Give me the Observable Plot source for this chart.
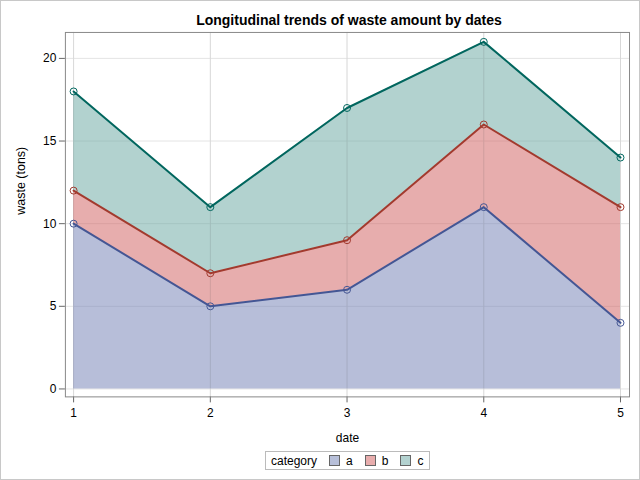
<!DOCTYPE html>
<html><head><meta charset="utf-8">
<script src="https://cdn.jsdelivr.net/npm/d3@7"></script>
<script src="https://cdn.jsdelivr.net/npm/@observablehq/plot@0.6"></script>
<style>
body{margin:0;font-family:"Liberation Sans",Arial,sans-serif;}
#wrap{position:relative;width:638px;height:478px;border:1px solid #c8c8c8;background:#fff;overflow:hidden;}
#title{position:absolute;left:0;width:696px;top:11px;text-align:center;font-weight:bold;font-size:14px;color:#000;}
#chart{position:absolute;left:-1px;top:-1px;}
#legend{position:absolute;left:264px;top:450px;height:17px;border:1px solid #bbb;display:flex;align-items:center;font-size:12px;color:#000;padding:0 6px 0 5px;}
.sw{display:inline-block;width:9px;height:9px;border:1px solid #666;margin:0 6px 0 12px;}
</style></head><body>
<div id="wrap">
<div id="chart"></div>
<div id="title">Longitudinal trends of waste amount by dates</div>
<div id="legend"></div>
</div>
<script>
const dates = [1, 2, 3, 4, 5];
const categories = ["a", "b", "c"];
const valuesA = [10, 5, 6, 11, 4];
const valuesB = [2, 2, 3, 5, 7];
const valuesC = [6, 4, 8, 5, 3];
const fillColors = ["#6F7EB3", "#D05B5B", "#66A5A0"];
const lineColors = ["#445694", "#A23A2E", "#01665E"];
const yTicks = [0, 5, 10, 15, 20];

const series = [valuesA, valuesB, valuesC];
const data = [];
categories.forEach((c, i) => dates.forEach((d, j) => data.push({date: d, waste: series[i][j], category: c})));

const chart = Plot.plot({
  width: 640, height: 480,
  marginLeft: 65, marginRight: 10, marginTop: 32, marginBottom: 83,
  style: {fontFamily: "Liberation Sans, Arial, sans-serif", fontSize: "12px", color: "#333"},
  x: {domain: [0.94, 5.066], ticks: dates, tickFormat: d3.format("d"), label: null, tickSize: 6},
  y: {domain: [-0.48, 21.57], ticks: yTicks, label: null, tickSize: 6},
  color: {domain: categories, range: fillColors},
  marks: [
    Plot.gridX(dates, {stroke: "#e4e4e4", strokeOpacity: 1}),
    Plot.gridY(yTicks, {stroke: "#e4e4e4", strokeOpacity: 1}),
    Plot.areaY(data, {x: "date", y: "waste", fill: "category", fillOpacity: 0.5, order: categories}),
    Plot.gridX(dates, {stroke: "#999", strokeOpacity: 0.15}),
    Plot.lineY(data, Plot.stackY2({x: "date", y: "waste", z: "category", order: categories, stroke: d => lineColors[categories.indexOf(d.category)], strokeWidth: 2})),
    Plot.dot(data, Plot.stackY2({x: "date", y: "waste", z: "category", order: categories, r: 3.5, stroke: d => lineColors[categories.indexOf(d.category)], fill: "none", strokeWidth: 1})),
    Plot.axisX({ticks: dates, tickFormat: d3.format("d"), tickSize: 6, tickPadding: 6, label: null, stroke: "#666", fill: "#000"}),
    Plot.axisY({ticks: yTicks, tickSize: 6, tickPadding: 3, label: null, stroke: "#666", fill: "#000"}),
    Plot.frame({stroke: "#888"}),
    Plot.text(["date"], {frameAnchor: "bottom", dy: 45, fill: "#000", fontSize: 12}),
    Plot.text(["waste (tons)"], {frameAnchor: "left", dx: -44, rotate: -90, fill: "#000", fontSize: 12.5})
  ]
});
document.getElementById("chart").appendChild(chart);

const lg = document.getElementById("legend");
let html = "<span>category</span>";
categories.forEach((c, i) => {
  html += `<span class="sw" style="background:${d3.interpolateRgb(fillColors[i], "#fff")(0.5)}"></span><span>${c}</span>`;
});
lg.innerHTML = html;
</script>
</body></html>
